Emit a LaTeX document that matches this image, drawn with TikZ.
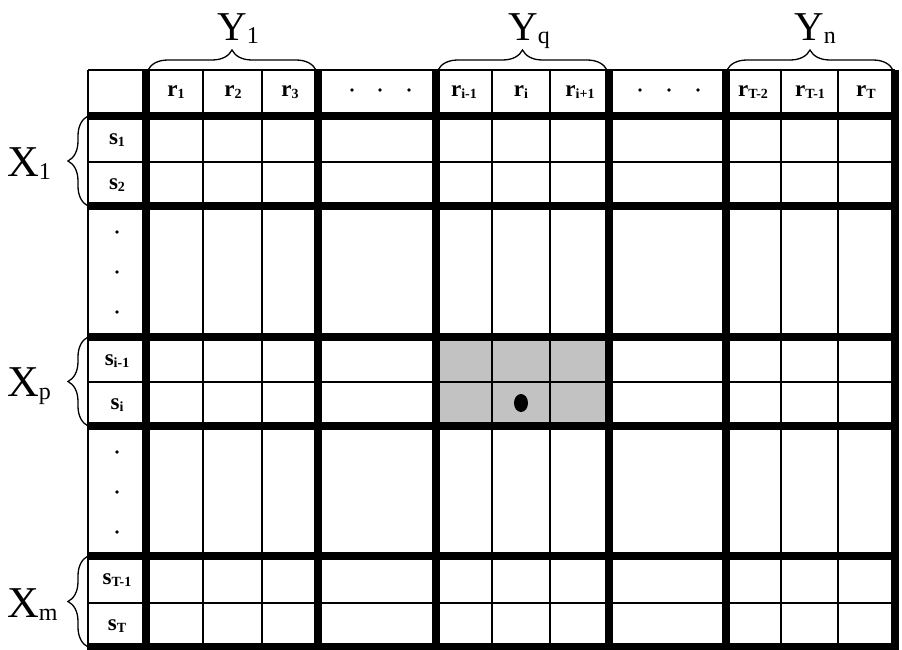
\documentclass[tikz,border=0pt]{standalone}
\usepackage{fontspec}
\setmainfont{Liberation Serif}
\usetikzlibrary{decorations.pathreplacing}
\definecolor{mygray}{gray}{.76}
\newcommand{\cellsub}[2]{\textbf{#1}\raisebox{-2pt}{\fontsize{14}{14}\selectfont\bfseries #2}}
\newcommand{\grpsub}[2]{#1\rlap{\raisebox{-3pt}{\fontsize{24}{24}\selectfont #2}}}

\begin{document}
\begin{tikzpicture}[x=1pt,y=-1pt,
  thinrule/.style={line width=1.1pt},
  thickrule/.style={line width=8pt},
  celltext/.style={anchor=base,inner sep=0pt,font=\fontsize{23}{23}\selectfont},
  grptext/.style={anchor=base,inner sep=0pt,font=\fontsize{41}{41}\selectfont},
  grpbrace/.style={decorate,decoration={brace,amplitude=20pt},line width=1.3pt}]
  \useasboundingbox (0,0) rectangle (902,650);
  \fill[mygray] (436,337) rectangle (609,426); % the shaded block
  \foreach \y in {70,162,382,603}
    \draw[thinrule] (88,\y) -- (895,\y);
  \foreach \x in {88,203,262,492,550,781,838}
    \draw[thinrule] (\x,70) -- (\x,650);
  \foreach \y in {116,206,337,426,556,647}
    \draw[thickrule] (88,\y) -- (899,\y);
  \foreach \x in {146,318,436,609,726,895}
    \draw[thickrule] (\x,70) -- (\x,651);
  % column heads
  \foreach \x/\sub/\name in {176/1/r1,233/2/r2,290/3/r3,464/{i-1}/rim,521/i/ri,580/{i+1}/rip,753/{T-2}/rTmm,810/{T-1}/rTm,866/T/rT}
    \node[celltext] (\name) at (\x,97) {\cellsub{r}{\sub}};
  % row heads
  \foreach \y/\sub/\name in {139/1/s1,184/2/s2,360/{i-1}/sim,404/i/si,579/{T-1}/sTm,625/T/sT}
    \node[celltext] (\name) at (117,\y+5) {\cellsub{s}{\sub}};
  \foreach \x in {352,380,409,640,669,698}
    \fill (\x,90) circle (1.8);
  \foreach \y in {232,272,312,452,492,532}
    \fill (117,\y) circle (1.8);
  \fill (521,403) ellipse (7 and 9);
  % groups
  \draw[grpbrace] (148,70) -- (316,70);
  \draw[grpbrace] (438,70) -- (607,70);
  \draw[grpbrace] (727,70) -- (893,70);
  \node[grptext] (Y1) at (232,41) {\grpsub{Y}{1}};
  \node[grptext] (Yq) at (523,41) {\grpsub{Y}{q}};
  \node[grptext] (Yn) at (809,41) {\grpsub{Y}{n}};
  \draw[grpbrace] (88,206) -- (88,116);
  \draw[grpbrace] (88,426) -- (88,337);
  \draw[grpbrace] (88,647) -- (88,556);
  \node[grptext,anchor=base west,font=\fontsize{44}{44}\selectfont] (X1) at (7,176) {\grpsub{X}{1}};
  \node[grptext,anchor=base west,font=\fontsize{44}{44}\selectfont] (Xp) at (7,396) {\grpsub{X}{p}};
  \node[grptext,anchor=base west,font=\fontsize{44}{44}\selectfont] (Xm) at (7,617) {\grpsub{X}{m}};
\end{tikzpicture}
\end{document}
